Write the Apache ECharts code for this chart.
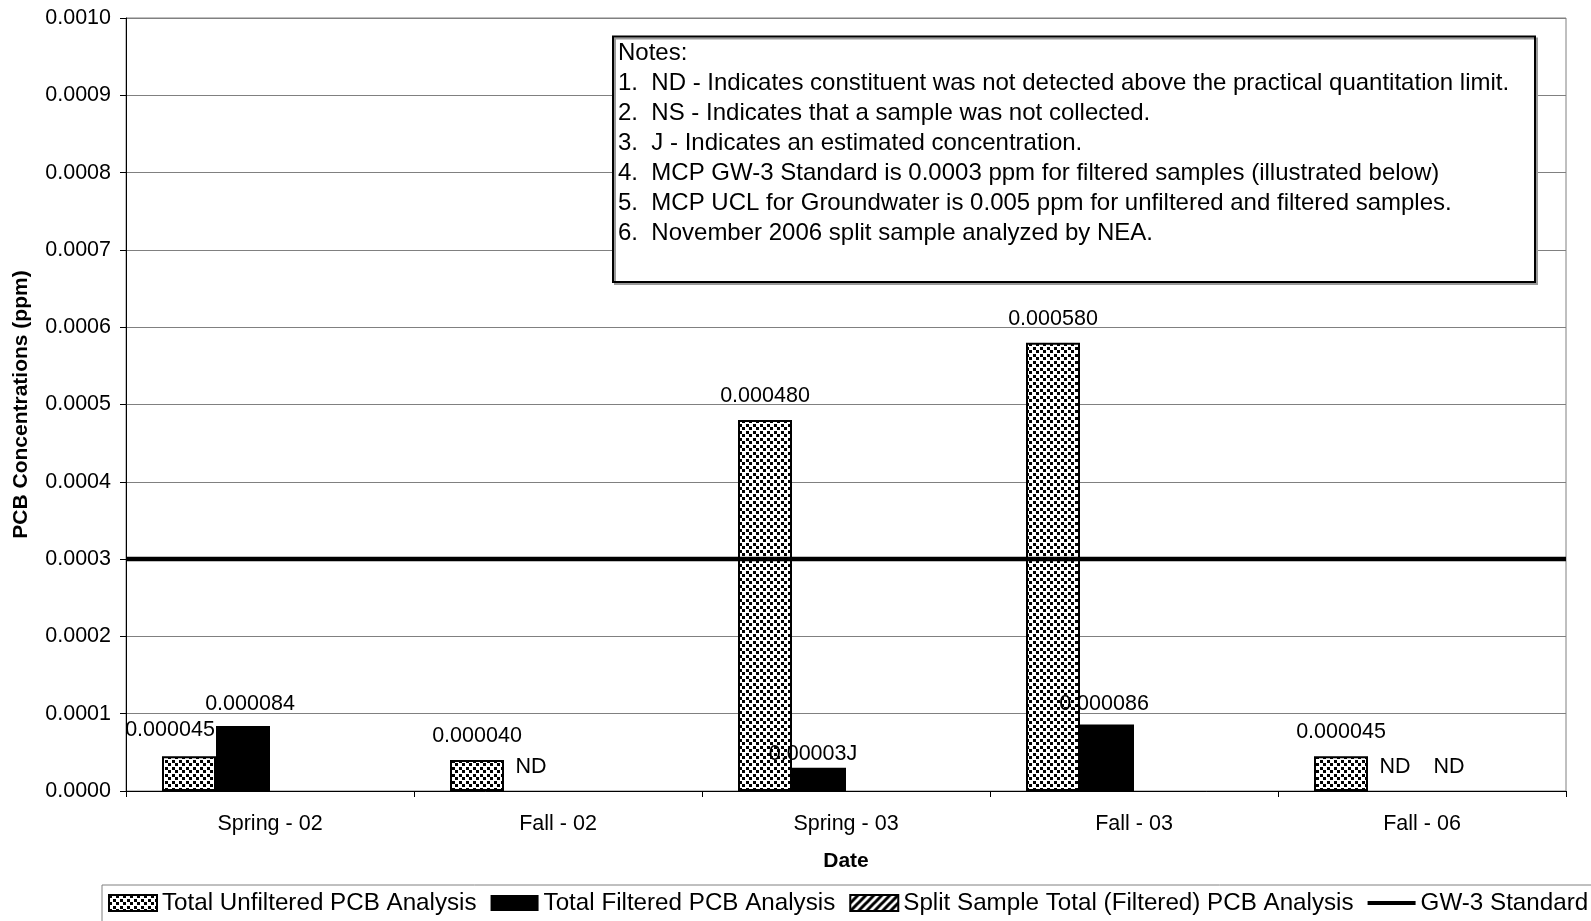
<!DOCTYPE html>
<html>
<head>
<meta charset="utf-8">
<script src="https://cdn.jsdelivr.net/npm/echarts@6/dist/echarts.min.js"></script>
<style>
  html, body { margin: 0; padding: 0; background: #fff; }
  #chart { width: 1591px; height: 921px; }
</style>
</head>
<body>
<div id="chart"></div>
<script>
// Sampling events and PCB results (ppm)
const categories = ['Spring - 02', 'Fall - 02', 'Spring - 03', 'Fall - 03', 'Fall - 06'];
const unfiltered = [0.000045, 0.000040, 0.000480, 0.000580, 0.000045];
const unfilteredLabels = ['0.000045', '0.000040', '0.000480', '0.000580', '0.000045'];
const filtered = [0.000084, 0, 0.00003, 0.000086, 0];
const filteredLabels = ['0.000084', 'ND', '0.00003J', '0.000086', 'ND'];
const splitSample = [null, null, null, null, 0];
const splitLabels = ['', '', '', '', 'ND'];
const gw3Standard = 0.0003;
const yMin = 0, yMax = 0.001, yStep = 0.0001;

const notes = [
  'Notes:',
  '1.  ND - Indicates constituent was not detected above the practical quantitation limit.',
  '2.  NS - Indicates that a sample was not collected.',
  '3.  J - Indicates an estimated concentration.',
  '4.  MCP GW-3 Standard is 0.0003 ppm for filtered samples (illustrated below)',
  '5.  MCP UCL for Groundwater is 0.005 ppm for unfiltered and filtered samples.',
  '6.  November 2006 split sample analyzed by NEA.'
];

const FONT = '"Liberation Sans", Arial, sans-serif';
const LABEL_SIZE = 21.5;

// Fill patterns: stippled dots and diagonal hatch
function dotPattern() {
  const c = document.createElement('canvas');
  c.width = 7; c.height = 7;
  const g = c.getContext('2d');
  g.fillStyle = '#fff'; g.fillRect(0, 0, 7, 7);
  g.fillStyle = '#000';
  g.fillRect(0, 0, 3, 3);
  g.fillRect(4, 4, 3, 3);
  return { image: c, repeat: 'repeat' };
}
function hatchPattern() {
  const c = document.createElement('canvas');
  c.width = 8; c.height = 8;
  const g = c.getContext('2d');
  g.fillStyle = '#fff'; g.fillRect(0, 0, 8, 8);
  g.strokeStyle = '#000'; g.lineWidth = 3;
  g.beginPath();
  g.moveTo(-2, 10); g.lineTo(10, -2);
  g.moveTo(-6, 6); g.lineTo(6, -6);
  g.moveTo(2, 14); g.lineTo(14, 2);
  g.stroke();
  return { image: c, repeat: 'repeat' };
}

// A few labels sit slightly off their bars to keep clear of neighbours
const unfilteredShift = { 0: [-19, -2] };
const filteredShift = { 0: [7, 2], 2: [-6, 10], 3: [-3, 4] };

function withLabels(values, labels, shifts) {
  return values.map((v, i) => {
    const item = { value: v };
    if (v === 0) item.itemStyle = { borderWidth: 0 };   // not-detected: no visible bar
    if (labels[i]) {
      item.label = { show: true, formatter: labels[i] };
      if (shifts && shifts[i]) item.label.offset = shifts[i];
    }
    return item;
  });
}

const labelStyle = {
  position: 'top',
  distance: 13,
  color: '#000',
  fontSize: LABEL_SIZE,
  fontFamily: FONT
};

const chart = echarts.init(document.getElementById('chart'), null, { renderer: 'canvas' });

chart.setOption({
  animation: false,
  backgroundColor: '#fff',
  textStyle: { fontFamily: FONT, color: '#000' },
  grid: {
    left: 126, right: 25, top: 18, bottom: 130,
    show: true, borderColor: '#808080', borderWidth: 1,
    containLabel: false
  },
  legend: {
    left: 102, top: 885, width: 1520,
    padding: [6, 10, 12, 6],
    borderColor: '#808080', borderWidth: 1,
    itemWidth: 48, itemHeight: 16, itemGap: 14,
    icon: 'rect',
    textStyle: { fontSize: 24.2, fontFamily: FONT, color: '#000' },
    data: [
      'Total Unfiltered PCB Analysis',
      'Total Filtered PCB Analysis',
      'Split Sample Total (Filtered) PCB Analysis',
      { name: 'GW-3 Standard', icon: 'path://M0,0H52V4.5H0Z' }
    ]
  },
  xAxis: [
    {
      type: 'category',
      data: categories,
      boundaryGap: true,
      name: 'Date',
      nameLocation: 'middle',
      nameGap: 60,
      nameTextStyle: { fontSize: 21, fontWeight: 'bold', color: '#000', fontFamily: FONT },
      axisLine: { lineStyle: { color: '#000', width: 1 } },
      axisTick: { show: true, length: 6, lineStyle: { color: '#000' } },
      axisLabel: { fontSize: LABEL_SIZE, color: '#000', margin: 22, fontFamily: FONT },
      splitLine: { show: false }
    },
    {
      // hidden span axis so the standard runs edge to edge
      type: 'value',
      min: 0, max: 1,
      show: false
    }
  ],
  yAxis: {
    type: 'value',
    min: yMin, max: yMax, interval: yStep,
    name: 'PCB Concentrations (ppm)',
    nameLocation: 'middle',
    nameGap: 94,
    nameRotate: 90,
    nameTextStyle: { fontSize: 21, fontWeight: 'bold', color: '#000', fontFamily: FONT },
    axisLine: { show: true, lineStyle: { color: '#000', width: 1 } },
    axisTick: { show: true, length: 6, lineStyle: { color: '#000' } },
    axisLabel: {
      fontSize: LABEL_SIZE, color: '#000', margin: 15, fontFamily: FONT,
      formatter: v => v.toFixed(4)
    },
    splitLine: { show: true, lineStyle: { color: '#808080', width: 1 } }
  },
  series: [
    {
      name: 'Total Unfiltered PCB Analysis',
      type: 'bar',
      barGap: 0,
      barCategoryGap: '25%',
      itemStyle: { color: dotPattern(), borderColor: '#000', borderWidth: 2 },
      label: labelStyle,
      data: withLabels(unfiltered, unfilteredLabels, unfilteredShift)
    },
    {
      name: 'Total Filtered PCB Analysis',
      type: 'bar',
      barGap: 0,
      barCategoryGap: '25%',
      itemStyle: { color: '#000', borderColor: '#000', borderWidth: 0 },
      label: labelStyle,
      data: withLabels(filtered, filteredLabels, filteredShift)
    },
    {
      name: 'Split Sample Total (Filtered) PCB Analysis',
      type: 'bar',
      barGap: 0,
      barCategoryGap: '25%',
      itemStyle: { color: hatchPattern(), borderColor: '#000', borderWidth: 2 },
      label: labelStyle,
      data: withLabels(splitSample, splitLabels, null)
    },
    {
      // empty fourth slot in each category group
      name: 'reserved',
      type: 'bar',
      barGap: 0,
      barCategoryGap: '25%',
      data: categories.map(() => null)
    },
    {
      name: 'GW-3 Standard',
      type: 'line',
      xAxisIndex: 1,
      symbol: 'none',
      silent: true,
      lineStyle: { color: '#000', width: 4.5 },
      itemStyle: { color: '#000' },
      z: 5,
      data: [[0, gw3Standard], [1, gw3Standard]]
    }
  ],
  graphic: [
    {
      type: 'rect',
      z: 100,
      shape: { x: 613, y: 36.5, width: 922, height: 245.5 },
      style: {
        fill: '#fff', stroke: '#000', lineWidth: 2,
        shadowColor: '#9a9a9a', shadowOffsetX: 2, shadowOffsetY: 2, shadowBlur: 0
      }
    },
    {
      type: 'text',
      z: 101,
      left: 618, top: 38,
      style: {
        text: notes.join('\n'),
        font: '24px ' + FONT,
        fill: '#000',
        lineHeight: 30
      }
    }
  ]
});
</script>
</body>
</html>
